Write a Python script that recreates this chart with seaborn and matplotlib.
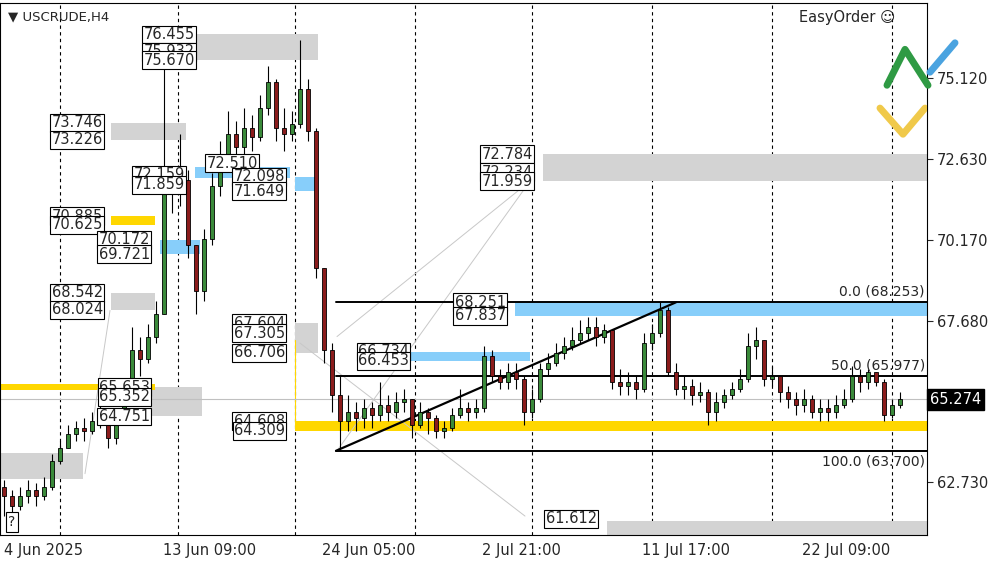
import numpy as np
import pandas as pd
import seaborn as sns
import matplotlib.pyplot as plt
from matplotlib.patches import Rectangle

sns.set_style("white")
plt.rcParams['font.family'] = ['DejaVu Sans']

# ---- data (H4 candles, merged two per slot) ----
closes = [62.3, 62.0, 62.3, 62.5, 62.3, 62.6, 63.4, 63.8, 64.2, 64.4,
          64.3, 64.6, 64.9, 64.1, 64.6, 65.6, 66.8, 66.5, 67.2, 67.9,
          71.6, 71.8, 72.0, 70.0, 68.6, 70.2, 71.8, 72.6, 73.4, 73.0,
          73.6, 73.3, 74.2, 75.0, 73.6, 73.4, 73.7, 74.8, 73.5, 69.3,
          66.8, 65.4, 64.6, 64.9, 64.7, 65.0, 64.8, 65.1, 64.9, 65.2,
          65.3, 64.5, 64.9, 64.7, 64.3, 64.4, 64.8, 65.0, 64.9, 65.0,
          66.6, 66.0, 65.8, 66.1, 65.9, 64.9, 65.3, 66.2, 66.4, 66.7,
          66.9, 67.1, 67.3, 67.5, 67.2, 67.4, 65.8, 65.7, 65.8, 65.6,
          67.0, 67.3, 68.0, 66.1, 65.6, 65.7, 65.4, 65.5, 64.9, 65.2,
          65.4, 65.6, 65.9, 66.9, 67.1, 65.9, 66.0, 65.5, 65.3, 65.1,
          65.3, 64.9, 65.0, 64.9, 65.1, 65.3, 66.0, 65.8, 66.1, 65.8,
          64.8, 65.1, 65.274]
first_open = 62.6
highs = [62.8, 62.5, 62.6, 62.8, 62.7, 62.9, 63.6, 64.0, 64.5, 64.6,
         64.7, 64.9, 65.2, 64.9, 64.8, 65.9, 67.5, 67.2, 67.6, 68.3,
         75.7, 72.4, 73.4, 72.3, 70.0, 70.5, 72.2, 73.2, 74.1, 73.8,
         74.2, 74.0, 74.6, 75.5, 75.1, 74.2, 74.1, 76.3, 75.1, 73.6,
         69.3, 67.0, 66.0, 65.4, 65.2, 65.3, 65.2, 65.8, 65.4, 65.5,
         65.6, 65.3, 65.2, 65.0, 64.8, 64.6, 65.0, 65.6, 65.2, 65.3,
         66.9, 66.8, 66.2, 66.4, 66.4, 66.0, 65.6, 66.4, 66.7, 67.0,
         67.2, 67.5, 67.7, 67.8, 67.8, 67.6, 67.4, 66.2, 66.1, 66.0,
         67.3, 67.6, 68.25, 68.1, 66.4, 66.0, 65.9, 65.8, 65.6, 65.5,
         65.6, 65.8, 66.2, 67.3, 67.5, 67.1, 66.3, 66.0, 65.7, 65.5,
         65.6, 65.4, 65.3, 65.3, 65.4, 65.6, 66.3, 66.2, 66.2, 66.1,
         65.9, 65.3, 65.5]
lows = [61.7, 61.6, 61.9, 62.1, 62.0, 62.2, 62.5, 63.3, 63.8, 64.0,
        64.0, 64.2, 64.4, 63.8, 63.9, 64.5, 65.5, 66.0, 66.4, 67.0,
        67.9, 71.0, 71.2, 69.6, 67.9, 68.3, 70.0, 71.5, 72.4, 72.6,
        72.8, 72.9, 73.2, 74.0, 73.2, 72.9, 73.2, 73.6, 73.2, 69.0,
        66.4, 64.9, 63.7, 64.3, 64.3, 64.4, 64.4, 64.6, 64.6, 64.7,
        64.9, 64.1, 64.4, 64.2, 64.1, 64.1, 64.3, 64.7, 64.6, 64.7,
        64.9, 65.8, 65.6, 65.6, 65.6, 64.5, 64.7, 65.2, 66.0, 66.3,
        66.5, 66.8, 67.0, 67.1, 66.9, 67.0, 65.6, 65.4, 65.4, 65.3,
        65.5, 66.8, 67.2, 66.0, 65.4, 65.3, 65.1, 65.2, 64.5, 64.6,
        65.0, 65.3, 65.5, 65.8, 66.5, 65.7, 65.7, 65.2, 65.0, 64.8,
        64.9, 64.7, 64.6, 64.6, 64.7, 65.0, 65.2, 65.5, 65.6, 65.7,
        64.6, 64.7, 65.0]

date_labels = ["4 Jun 2025", "13 Jun 09:00", "24 Jun 05:00",
               "2 Jul 21:00", "11 Jul 17:00", "22 Jul 09:00"]
date_px = [4, 163, 322, 482, 642, 802]
grid_px = [60, 178, 295, 415, 532, 652, 772, 892]
price_ticks = [62.730, 65.274, 67.680, 70.170, 72.630, 75.120]
fib_levels = [68.253, 65.977, 63.700]
fib_names = ["0.0", "50.0", "100.0"]
last_price = 65.274

def ix(px):
    # screen pixel -> candle slot
    return (px - 4) / 8.0

opens = [first_open] + closes[:-1]
df = pd.DataFrame({"i": np.arange(len(closes)), "open": opens, "close": closes,
                   "high": highs, "low": lows})
df["bull"] = df["close"] >= df["open"]

fig = plt.figure(figsize=(10, 5.62), dpi=100)
ax = fig.add_axes([0.0, 27 / 562, 0.927, 532 / 562])
ax.set_xlim(ix(0), ix(927))
ax.set_ylim(61.12, 77.42)

# vertical dashed grid
for p in grid_px:
    ax.axvline(ix(p), color="black", lw=0.8, ls=(0, (3, 3)), zorder=0)

# zones: (x0px, x1px, lo, hi, colour)
zones = [
    (195, 318, 75.67, 76.455, "#d3d3d3"),
    (111, 186, 73.226, 73.746, "#d3d3d3"),
    (111, 155, 68.024, 68.542, "#d3d3d3"),
    (150, 202, 64.751, 65.652, "#d3d3d3"),
    (295, 318, 66.706, 67.604, "#d3d3d3"),
    (543, 927, 71.959, 72.784, "#d3d3d3"),
    (607, 927, 61.12, 61.55, "#d3d3d3"),
    (0, 83, 62.85, 63.62, "#d3d3d3"),
    (111, 155, 70.625, 70.885, "#ffd700"),
    (0, 155, 65.55, 65.75, "#ffd700"),
    (295, 927, 64.309, 64.608, "#ffd700"),
    (160, 200, 69.721, 70.172, "#87cefa"),
    (195, 290, 72.05, 72.40, "#87cefa"),
    (295, 318, 71.649, 72.098, "#87cefa"),
    (387, 530, 66.453, 66.734, "#87cefa"),
    (515, 927, 67.837, 68.251, "#87cefa"),
]
for x0, x1, lo, hi, c in zones:
    ax.add_patch(Rectangle((ix(x0), lo), ix(x1) - ix(x0), hi - lo, color=c, lw=0, zorder=1))

# thin grey connectors
for (xa, ya, xb, yb) in [(337, 67.2, 530, 71.96), (85, 63.0, 110, 68.0),
                         (300, 67.0, 525, 61.7), (337, 63.7, 530, 71.96)]:
    ax.plot([ix(xa), ix(xb)], [ya, yb], color="#c8c8c8", lw=0.7, zorder=1)
ax.plot([ix(295), ix(295)], [64.45, 67.1], color="#ffd700", lw=0.8, zorder=1)

# current price line
ax.axhline(last_price, color="#c0c0c0", lw=0.8, zorder=1)

# fibonacci lines
for lv, nm in zip(fib_levels, fib_names):
    seg = pd.DataFrame({"x": [ix(336), ix(927)], "y": [lv, lv]})
    sns.lineplot(data=seg, x="x", y="y", color="black", lw=1.4, ax=ax, zorder=3)
    va = "top" if nm == "100.0" else "bottom"
    off = -0.12 if nm == "100.0" else 0.12
    ax.text(ix(925), lv + off, f"{nm} ({lv:.3f})", ha="right", va=va, fontsize=10, zorder=6)
ax.plot([ix(336), ix(676)], [63.70, 68.25], color="black", lw=1.6, zorder=3)

# candles
ax.vlines(df["i"], df["low"], df["high"], color="black", lw=0.8, zorder=4)
body_lo = df[["open", "close"]].min(axis=1)
body_h = (df["close"] - df["open"]).abs().clip(lower=0.04)
ax.bar(df["i"], body_h, bottom=body_lo, width=0.5,
       color=np.where(df["bull"], "#3a8a3a", "#8b1c1c"), edgecolor="black", lw=0.6, zorder=5)

# price labels: (right edge px, price, text)
labels = [
    (195, 76.455, "76.455"), (195, 75.932, "75.932"), (195, 75.67, "75.670"),
    (103, 73.746, "73.746"), (103, 73.226, "73.226"),
    (185, 72.159, "72.159"), (185, 71.849, "71.859"),
    (103, 70.885, "70.885"), (103, 70.625, "70.625"),
    (150, 70.172, "70.172"), (150, 69.721, "69.721"),
    (103, 68.542, "68.542"), (103, 68.024, "68.024"),
    (150, 65.653, "65.653"), (150, 65.352, "65.352"), (150, 64.751, "64.751"),
    (258, 72.510, "72.510"), (285, 72.098, "72.098"), (285, 71.649, "71.649"),
    (285, 67.604, "67.604"), (285, 67.305, "67.305"), (285, 66.706, "66.706"),
    (285, 64.608, "64.608"), (285, 64.309, "64.309"),
    (533, 72.784, "72.784"), (533, 72.234, "72.234"), (533, 71.959, "71.959"),
    (409, 66.734, "66.734"), (409, 66.453, "66.453"),
    (506, 68.251, "68.251"), (506, 67.837, "67.837"),
    (597, 61.612, "61.612"),
]
for px, pr, t in labels:
    ax.text(ix(px), pr, t, ha="right", va="center", fontsize=10.5, zorder=7,
            bbox=dict(boxstyle="square,pad=0.1", fc="white", ec="black", lw=0.8))

# header texts
ax.text(ix(8), 77.2, "\u25bc USCRUDE,H4", ha="left", va="top", fontsize=9.5, zorder=8)
ax.text(ix(895), 77.2, "EasyOrder \u263a", ha="right", va="top", fontsize=10.5, zorder=8)
ax.text(ix(12), 61.3, "?", ha="center", va="bottom", fontsize=10, zorder=8,
        bbox=dict(boxstyle="square,pad=0.2", fc="white", ec="black", lw=0.8))
# logo strokes
ax.plot([ix(880), ix(903), ix(925)], [74.2, 73.4, 74.2], color="#f0c94a", lw=5, zorder=8)
ax.plot([ix(887), ix(905), ix(928)], [74.9, 76.0, 74.9], color="#2f9a44", lw=5, zorder=8, clip_on=False)
ax.plot([ix(930), ix(955)], [75.3, 76.2], color="#4aa3e0", lw=5, zorder=8, clip_on=False)

# axes / ticks
ax.set_xticks([ix(p) for p in date_px])
ax.set_xticklabels(date_labels, ha="left", fontsize=10.5)
ax.tick_params(axis="x", length=4, pad=2)
ax.yaxis.tick_right()
ax.set_yticks([p for p in price_ticks if p != last_price])
ax.set_yticklabels([f"{p:.3f}" for p in price_ticks if p != last_price], fontsize=10.5)
ax.tick_params(axis="y", length=4, pad=3)
ax.text(1.003, last_price, f"{last_price:.3f}", transform=ax.get_yaxis_transform(),
        ha="left", va="center", color="white", fontsize=10.5,
        bbox=dict(boxstyle="square,pad=0.2", fc="black", ec="black"))
ax.set_xlabel("")
ax.set_ylabel("")
for s in ax.spines.values():
    s.set_color("black")
    s.set_linewidth(0.8)

fig.savefig("out.png", dpi=100)
